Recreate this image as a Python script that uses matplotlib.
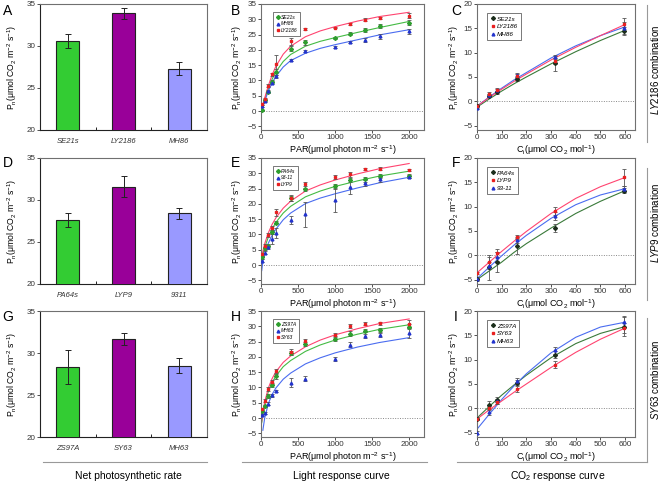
import numpy as np
import matplotlib
matplotlib.use("Agg")
import matplotlib.pyplot as plt
from matplotlib.lines import Line2D

plt.rcParams["font.family"] = ["Liberation Sans", "DejaVu Sans"]
plt.rcParams["mathtext.fontset"] = "custom"
plt.rcParams["mathtext.rm"] = "Liberation Sans"
plt.rcParams["mathtext.it"] = "Liberation Sans:italic"
plt.rcParams["mathtext.bf"] = "Liberation Sans:bold"

nan = np.nan

# ---- net photosynthetic rate (bars) ----
BAR_NAMES_A = ["SE21s", "LY2186", "MH86"]
BAR_NAMES_D = ["PA64s", "LYP9", "9311"]
BAR_NAMES_G = ["ZS97A", "SY63", "MH63"]
PN_A = [30.6, 33.9, 27.3]
PN_A_ERR = [0.8, 0.65, 0.8]
PN_D = [27.6, 31.6, 28.4]
PN_D_ERR = [0.8, 1.2, 0.7]
PN_G = [28.3, 31.7, 28.5]
PN_G_ERR = [2.0, 0.7, 0.9]

# ---- light response ----
PAR = [20, 50, 100, 150, 200, 400, 600, 1000, 1200, 1400, 1600, 2000]
FIT_PAR = [10, 25, 50, 100, 150, 200, 300, 400, 600, 800, 1000, 1300, 1600, 2000]

B_SE21S = [0.2, 3.5, 6.3, 9.6, 12.8, 20.4, 22.5, 23.9, 25.2, 26.5, 27.9, 28.9]
B_SE21S_ERR = [0.3, 0.3, 0.4, 0.4, 0.9, 0.8, 0.8, 0.4, 0.5, 0.6, 0.6, 0.8]
B_MH86 = [1.6, 3.3, 6.5, 9.2, 11.3, 16.6, 19.6, 20.9, 22.5, 23.3, 24.4, 26.1]
B_MH86_ERR = [0.3, 0.3, 0.5, 0.5, 0.6, 0.4, 0.4, 0.4, 0.4, 0.6, 0.7, 0.8]
B_LY2186 = [2.2, 4.0, 8.3, 12.1, 15.5, 22.8, 26.9, 27.3, 28.5, 29.9, 30.4, 31.2]
B_LY2186_ERR = [0.3, 0.4, 0.4, 0.5, 2.7, 1.2, 0.3, 0.3, 0.3, 0.5, 0.4, 0.9]
B_SE21S_FIT = [-0.3, 1.6, 3.7, 7.4, 10.4, 12.8, 16.2, 18.5, 21.2, 22.8, 24.0, 25.7, 27.3, 29.3]
B_MH86_FIT = [-0.5, 1.3, 3.3, 6.6, 9.2, 11.3, 14.4, 16.5, 18.9, 20.5, 21.7, 23.3, 24.9, 26.6]
B_LY2186_FIT = [0.0, 2.0, 4.3, 8.4, 11.8, 14.6, 18.6, 21.2, 24.3, 26.2, 27.6, 29.4, 30.9, 32.3]

E_PA64S = [2.5, 5.5, 6.3, 10.8, 13.9, 22.0, 24.8, 25.7, 27.8, 28.0, 29.1, 29.1]
E_PA64S_ERR = [0.4, 0.5, 0.5, 0.7, 0.5, 1.0, 0.5, 0.8, 0.8, 0.8, 0.6, 0.6]
E_9311 = [1.4, 4.1, 5.8, 8.5, 10.4, 14.8, 16.6, 21.3, 25.5, 26.8, 28.0, 28.8]
E_9311_ERR = [0.5, 0.6, 0.6, 1.5, 1.7, 1.3, 4.1, 3.8, 2.2, 1.0, 0.8, 0.5]
E_LYP9 = [3.6, 6.3, 9.8, 12.1, 17.2, 21.8, 26.5, 28.7, 29.7, 31.4, 31.5, 31.1]
E_LYP9_ERR = [0.5, 0.6, 0.6, 0.7, 1.2, 0.9, 0.5, 0.7, 0.8, 0.4, 0.5, 0.4]
E_PA64S_FIT = [1.0, 3.3, 5.8, 9.2, 11.8, 13.9, 17.0, 19.2, 22.3, 24.2, 25.7, 27.5, 29.1, 30.7]
E_9311_FIT = [-1.8, 1.2, 3.8, 7.2, 9.7, 11.7, 14.8, 17.0, 20.1, 21.9, 23.3, 25.2, 26.9, 28.7]
E_LYP9_FIT = [2.5, 4.5, 7.0, 10.6, 13.3, 15.4, 18.6, 20.9, 24.2, 26.2, 27.8, 29.8, 31.5, 33.2]

H_ZS97A = [2.4, 4.0, 7.2, 10.9, 13.6, 21.3, 24.3, 25.9, 27.5, 28.6, 28.8, 29.9]
H_ZS97A_ERR = [0.4, 0.4, 0.5, 0.6, 0.7, 0.7, 0.6, 0.7, 0.8, 0.6, 0.7, 0.8]
H_MH63 = [1.0, 1.6, 4.7, 7.4, 8.8, 11.5, 12.9, 19.2, 24.0, 26.8, 27.2, 27.8]
H_MH63_ERR = [0.3, 0.4, 0.5, 0.4, 0.4, 1.5, 0.9, 0.7, 0.9, 0.6, 0.6, 1.5]
H_SY63 = [2.9, 5.6, 9.5, 11.8, 15.4, 21.6, 25.1, 27.3, 30.0, 30.8, 31.0, 30.8]
H_SY63_ERR = [0.4, 0.5, 0.5, 0.6, 0.6, 0.9, 0.8, 0.6, 0.7, 0.5, 0.5, 1.4]
H_ZS97A_FIT = [-1.5, 1.0, 4.2, 8.7, 11.6, 13.7, 16.8, 18.8, 21.8, 23.9, 25.5, 27.4, 29.0, 30.5]
H_MH63_FIT = [nan, -4.0, 0.0, 4.8, 7.7, 9.8, 12.7, 14.7, 17.7, 19.7, 21.3, 23.2, 24.7, 26.3]
H_SY63_FIT = [-1.0, 2.0, 5.3, 9.9, 12.9, 15.1, 18.2, 20.3, 23.3, 25.5, 27.2, 29.2, 30.9, 32.4]

# ---- CO2 response ----
CI = [0, 50, 80, 160, 315, 595]
FIT_CI = [0, 50, 100, 150, 200, 300, 400, 500, 600]

C_SE21S = [-0.9, 1.1, 1.9, 4.5, 7.8, 14.4]
C_SE21S_ERR = [0.3, 0.3, 0.3, 0.4, 1.5, 0.8]
C_LY2186 = [-1.0, 1.6, 2.4, 5.2, 8.2, 15.8]
C_LY2186_ERR = [0.3, 0.4, 0.3, 0.4, 0.6, 1.4]
C_MH86 = [-1.3, 1.2, 2.3, 5.4, 9.1, 15.1]
C_MH86_ERR = [0.3, 0.3, 0.3, 0.5, 0.4, 1.2]
C_SE21S_FIT = [-1.2, 0.5, 2.1, 3.6, 5.0, 7.7, 10.2, 12.5, 14.6]
C_LY2186_FIT = [-1.0, 0.8, 2.5, 4.1, 5.6, 8.5, 11.1, 13.5, 15.8]
C_MH86_FIT = [-1.0, 0.9, 2.7, 4.4, 5.9, 8.9, 11.4, 13.5, 15.3]

F_PA64S = [-4.9, -2.5, -1.4, 1.9, 5.6, 13.3]
F_PA64S_ERR = [0.3, 2.5, 2.1, 1.6, 0.8, 0.5]
F_LYP9 = [-3.6, -1.4, 0.5, 3.8, 9.1, 16.0]
F_LYP9_ERR = [0.2, 1.0, 0.8, 0.4, 0.9, 1.8]
F_9311 = [-4.8, -2.1, -0.3, 3.2, 8.1, 13.6]
F_9311_ERR = [0.3, 0.8, 0.9, 0.6, 0.8, 0.6]
F_PA64S_FIT = [-5.0, -3.2, -1.4, 0.6, 2.4, 5.6, 8.6, 11.1, 13.3]
F_LYP9_FIT = [-3.6, -1.4, 0.8, 2.9, 4.9, 8.6, 11.7, 14.1, 16.0]
F_9311_FIT = [-4.8, -2.4, -0.1, 2.1, 4.1, 7.6, 10.4, 12.4, 13.7]

I_ZS97A = [-2.1, 0.6, 1.8, 5.3, 11.0, 16.8]
I_ZS97A_ERR = [0.3, 0.8, 0.6, 0.5, 0.7, 1.9]
I_SY63 = [-2.2, 0.1, 1.3, 3.9, 9.0, 16.5]
I_SY63_ERR = [0.3, 0.4, 0.4, 0.6, 0.7, 1.0]
I_MH63 = [-5.0, -0.8, 1.4, 5.6, 11.9, 17.7]
I_MH63_ERR = [0.3, 0.6, 0.5, 0.6, 0.8, 1.2]
I_ZS97A_FIT = [-2.0, 0.4, 2.7, 4.8, 6.8, 10.4, 13.3, 15.4, 16.8]
I_SY63_FIT = [-2.2, -0.3, 1.5, 3.3, 5.0, 8.4, 11.5, 14.2, 16.5]
I_MH63_FIT = [-4.3, -1.2, 1.8, 4.6, 7.1, 11.4, 14.6, 16.7, 17.7]

# ---- styles ----
BAR_COLORS = ["#33cc33", "#990099", "#9999ff"]
GREEN = dict(mc="#2e9e2e", lc="#44bb44", mk="D")
BLUE = dict(mc="#2233cc", lc="#4a6cf0", mk="^")
RED = dict(mc="#e82020", lc="#ff4470", mk="s")
DKGREEN = dict(mc="#1c2e1c", lc="#3a7a3a", mk="D")

W, H = 661, 483
AX_H = 126
ROW_TOPS = [4, 158, 311]
COLS = [(40, 207), (261, 424), (477, 635)]
YLAB = "P$_\\mathrm{n}$(μmol CO$_2$ m$^{-2}$ s$^{-1}$)"

fig = plt.figure(figsize=(W / 100, H / 100), dpi=100)


def px_axes(col, row):
    x0, x1 = COLS[col]
    top = ROW_TOPS[row]
    return fig.add_axes([x0 / W, 1 - (top + AX_H) / H, (x1 - x0) / W, AX_H / H])


def base_style(ax):
    for s in ax.spines.values():
        s.set_color("#707070")
        s.set_linewidth(0.8)
    ax.tick_params(labelsize=5.8, colors="#333333", length=2, width=0.6, pad=1.2)


def bar_panel(ax, names, means, errs):
    base_style(ax)
    ax.spines["left"].set_color("#222222")
    ax.spines["bottom"].set_color("#222222")
    ax.bar(range(3), means, width=0.41, color=BAR_COLORS, edgecolor="#222222",
           linewidth=0.8, yerr=errs, zorder=3,
           error_kw=dict(ecolor="#222222", elinewidth=0.7, capsize=2, capthick=0.7))
    ax.set_xlim(-0.5, 2.5)
    ax.set_ylim(20, 35)
    ax.set_yticks([20, 25, 30, 35])
    ax.set_xticks(range(3))
    ax.set_xticklabels(names, fontstyle="italic", fontsize=5.5)
    ax.tick_params(axis="x", length=0, pad=6)
    ax.set_xticks([0.5, 1.5], minor=True)
    ax.tick_params(axis="x", which="minor", direction="in", length=2, width=0.6)
    ax.set_ylabel(YLAB, fontsize=6.2)
    ax.yaxis.set_label_coords(-0.125, 0.5)


def curve_panel(ax, x, xfit, series, legend_order, kind):
    base_style(ax)
    ax.axhline(0, color="#888888", ls=(0, (1, 1.5)), lw=0.7, zorder=1)
    for name, y, e, fit, st in series:
        ax.plot(xfit, fit, color=st["lc"], lw=0.8, zorder=2)
        ax.errorbar(x, y, yerr=e, fmt=st["mk"], ms=2.0, color=st["mc"],
                    ecolor="#555555", elinewidth=0.6, capsize=1.2, capthick=0.6,
                    zorder=3)
    lookup = {s[0]: s[4] for s in series}
    handles = [Line2D([], [], ls="none", marker=lookup[n]["mk"], ms=2.0,
                      color=lookup[n]["mc"]) for n in legend_order]
    if kind == "light":
        ax.set_xlim(0, 2200)
        ax.set_ylim(-6.2, 35)
        ax.set_xticks([0, 500, 1000, 1500, 2000])
        ax.set_yticks(range(-5, 36, 5))
        ax.set_xlabel("PAR(μmol photon m$^{-2}$ s$^{-1}$)", fontsize=6.5, labelpad=1)
        ax.yaxis.set_label_coords(-0.105, 0.5)
        leg_fs, anchor = 3.6, (0.06, 0.955)
    else:
        ax.set_xlim(0, 640)
        ax.set_ylim(-5.9, 20)
        ax.set_xticks(range(0, 601, 100))
        ax.set_yticks(range(-5, 21, 5))
        ax.set_xlabel("C$_\\mathrm{i}$(μmol CO$_2$ mol$^{-1}$)", fontsize=6.5, labelpad=1)
        ax.yaxis.set_label_coords(-0.1, 0.5)
        leg_fs, anchor = 4.6, (0.04, 0.955)
    ax.set_ylabel(YLAB, fontsize=6.2)
    leg = ax.legend(handles, legend_order, loc="upper left", bbox_to_anchor=anchor,
                    fancybox=False, framealpha=1, edgecolor="#444444",
                    handletextpad=0.1, handlelength=1.0, labelspacing=0.35,
                    borderpad=0.5, prop=dict(size=leg_fs, style="italic"))
    leg.get_frame().set_linewidth(0.5)


# bars
for row, (names, m, e) in enumerate([(BAR_NAMES_A, PN_A, PN_A_ERR),
                                      (BAR_NAMES_D, PN_D, PN_D_ERR),
                                      (BAR_NAMES_G, PN_G, PN_G_ERR)]):
    bar_panel(px_axes(0, row), names, m, e)

# light response
curve_panel(px_axes(1, 0), PAR, FIT_PAR, [
    ("SE21s", B_SE21S, B_SE21S_ERR, B_SE21S_FIT, GREEN),
    ("MH86", B_MH86, B_MH86_ERR, B_MH86_FIT, BLUE),
    ("LY2186", B_LY2186, B_LY2186_ERR, B_LY2186_FIT, RED),
], ["SE21s", "MH86", "LY2186"], "light")
curve_panel(px_axes(1, 1), PAR, FIT_PAR, [
    ("PA64s", E_PA64S, E_PA64S_ERR, E_PA64S_FIT, GREEN),
    ("93-11", E_9311, E_9311_ERR, E_9311_FIT, BLUE),
    ("LYP9", E_LYP9, E_LYP9_ERR, E_LYP9_FIT, RED),
], ["PA64s", "93-11", "LYP9"], "light")
curve_panel(px_axes(1, 2), PAR, FIT_PAR, [
    ("ZS97A", H_ZS97A, H_ZS97A_ERR, H_ZS97A_FIT, GREEN),
    ("MH63", H_MH63, H_MH63_ERR, H_MH63_FIT, BLUE),
    ("SY63", H_SY63, H_SY63_ERR, H_SY63_FIT, RED),
], ["ZS97A", "MH63", "SY63"], "light")

# CO2 response
curve_panel(px_axes(2, 0), CI, FIT_CI, [
    ("SE21s", C_SE21S, C_SE21S_ERR, C_SE21S_FIT, DKGREEN),
    ("MH86", C_MH86, C_MH86_ERR, C_MH86_FIT, BLUE),
    ("LY2186", C_LY2186, C_LY2186_ERR, C_LY2186_FIT, RED),
], ["SE21s", "LY2186", "MH86"], "co2")
curve_panel(px_axes(2, 1), CI, FIT_CI, [
    ("PA64s", F_PA64S, F_PA64S_ERR, F_PA64S_FIT, DKGREEN),
    ("93-11", F_9311, F_9311_ERR, F_9311_FIT, BLUE),
    ("LYP9", F_LYP9, F_LYP9_ERR, F_LYP9_FIT, RED),
], ["PA64s", "LYP9", "93-11"], "co2")
curve_panel(px_axes(2, 2), CI, FIT_CI, [
    ("ZS97A", I_ZS97A, I_ZS97A_ERR, I_ZS97A_FIT, DKGREEN),
    ("MH63", I_MH63, I_MH63_ERR, I_MH63_FIT, BLUE),
    ("SY63", I_SY63, I_SY63_ERR, I_SY63_FIT, RED),
], ["ZS97A", "SY63", "MH63"], "co2")

# panel letters
LETTERS = ["A", "B", "C", "D", "E", "F", "G", "H", "I"]
LETTER_X = [8, 236, 456]
LETTER_Y = [11, 163, 317]
for i, letter in enumerate(LETTERS):
    r, c = divmod(i, 3)
    fig.text(LETTER_X[c] / W, 1 - LETTER_Y[r] / H, letter, fontsize=10,
             ha="center", va="center")

# right-hand combination labels
COMBOS = ["LY2186", "LYP9", "SY63"]
COMBO_Y = [70, 223, 380]
VLINES = [(5, 142), (168, 300), (318, 462)]
for name, yc, (y0, y1) in zip(COMBOS, COMBO_Y, VLINES):
    fig.text(655 / W, 1 - yc / H, "$\\mathit{" + name + "}$ combination",
             rotation=90, fontsize=7, ha="center", va="center")
    fig.add_artist(Line2D([647 / W, 647 / W], [1 - y0 / H, 1 - y1 / H],
                          transform=fig.transFigure, color="#999999", lw=0.8))

# bottom captions
CAPTIONS = ["Net photosynthetic rate", "Light response curve", "CO$_2$ response curve"]
CAP_X = [128, 341, 558]
HLINES = [(43, 207), (242, 427), (457, 647)]
for cap, xc, (x0, x1) in zip(CAPTIONS, CAP_X, HLINES):
    fig.add_artist(Line2D([x0 / W, x1 / W], [1 - 462 / H, 1 - 462 / H],
                          transform=fig.transFigure, color="#999999", lw=0.8))
    fig.text(xc / W, 1 - 476 / H, cap, fontsize=7.5, ha="center", va="center")

fig.savefig("out.png", dpi=100)
